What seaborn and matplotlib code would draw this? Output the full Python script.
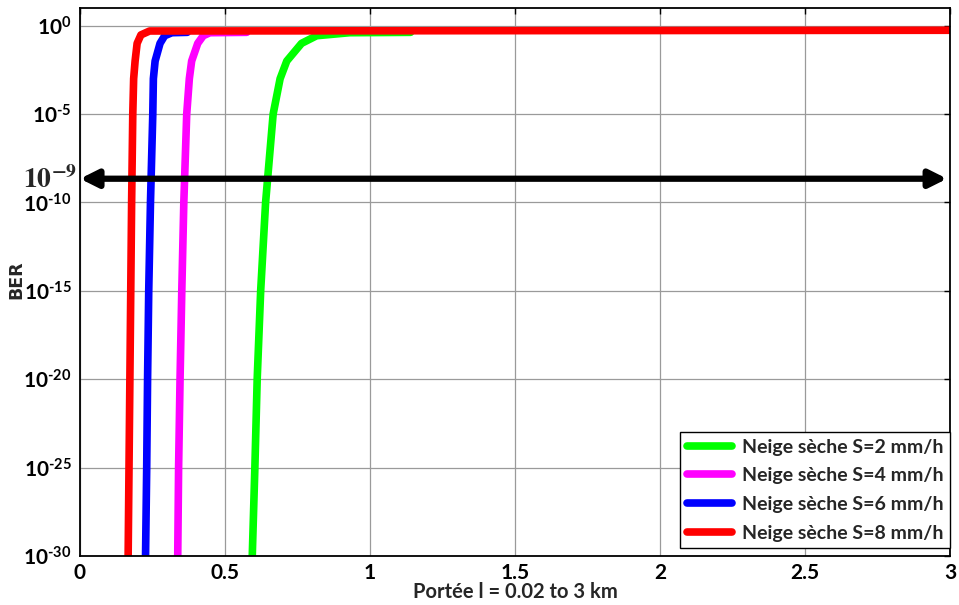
import numpy as np
import pandas as pd
import matplotlib
matplotlib.use("Agg")
import matplotlib.pyplot as plt
import seaborn as sns
from matplotlib.ticker import FixedLocator, FuncFormatter

# ---- data ----
labels = ["Neige sèche S=2 mm/h", "Neige sèche S=4 mm/h",
          "Neige sèche S=6 mm/h", "Neige sèche S=8 mm/h"]
colors = ["#00ff00", "#ff00ff", "#0000ff", "#ff0000"]

ber_levels = [1e-30, 1e-25, 1e-20, 1e-15, 1e-10, 1e-5, 1e-3, 1e-2, 1e-1, 0.27, 0.4, 0.42]

x_s2 = [0.594, 0.603, 0.611, 0.623, 0.640, 0.666, 0.690, 0.713, 0.764, 0.816, 0.930, 1.14]
x_s4 = [0.337, 0.340, 0.345, 0.351, 0.358, 0.368, 0.377, 0.385, 0.406, 0.425, 0.448, 0.575]
x_s6 = [0.226, 0.230, 0.233, 0.237, 0.243, 0.251, 0.253, 0.259, 0.276, 0.292, 0.317, 0.37]
x_s8 = [0.166, 0.169, 0.172, 0.175, 0.178, 0.182, 0.185, 0.190, 0.197, 0.210, 0.240, 3.0]
ber_s8 = [1e-30, 1e-25, 1e-20, 1e-15, 1e-10, 1e-5, 1e-3, 1e-2, 1e-1, 0.3, 0.5, 0.55]

arrow_x = [0.0, 2.99]
arrow_ber = 2.2e-9

xticks = [0, 0.5, 1, 1.5, 2, 2.5, 3]
yticks_exp = [-30, -25, -20, -15, -10, -5, 0]

rows = []
for lab, xs, ys in zip(labels, [x_s2, x_s4, x_s6, x_s8],
                       [ber_levels, ber_levels, ber_levels, ber_s8]):
    for x, y in zip(xs, ys):
        rows.append({"x": x, "BER": y, "serie": lab})
df = pd.DataFrame(rows)

FONT = "Lato"
sns.set_theme(style="white")
plt.rcParams["font.family"] = [FONT, "DejaVu Sans"]
plt.rcParams["mathtext.fontset"] = "custom"
plt.rcParams["mathtext.rm"] = FONT + ":bold"
plt.rcParams["mathtext.bf"] = FONT + ":bold"
plt.rcParams["mathtext.it"] = FONT + ":bold"

fig = plt.figure(figsize=(9.59, 6.05), dpi=100)
ax = fig.add_axes([80 / 959, 1 - 556 / 605, 870 / 959, 548 / 605])

sns.lineplot(data=df, x="x", y="BER", hue="serie", palette=colors,
             hue_order=labels, estimator=None, sort=False, lw=5.5,
             ax=ax, legend=True)

ax.set_yscale("log")
ax.set_xlim(0, 3)
ax.set_ylim(1e-30, 10)
ax.xaxis.set_major_locator(FixedLocator(xticks))
ax.yaxis.set_major_locator(FixedLocator([10.0 ** e for e in yticks_exp]))
ax.yaxis.set_minor_locator(FixedLocator([]))
ax.xaxis.set_major_formatter(FuncFormatter(lambda v, p: f"{v:g}"))
ax.yaxis.set_major_formatter(FuncFormatter(
    lambda v, p: r"$\mathbf{10^{\text{-}%d}}$" % abs(int(round(np.log10(v))))
    if v < 1 else r"$\mathbf{10^{0}}$"))

ax.grid(True, which="major", color="#9a9a9a", lw=0.9)
ax.tick_params(direction="in", top=True, right=True, length=4, width=1,
               labelsize=15, colors="black")
ax.tick_params(axis="x", pad=5)
ax.tick_params(axis="y", pad=6)
for lab in ax.get_xticklabels() + ax.get_yticklabels():
    lab.set_fontweight("bold")
for s in ax.spines.values():
    s.set_color("black")
    s.set_linewidth(1.3)

ax.set_xlabel("Portée l = 0.02 to 3 km", fontsize=14.5, fontweight="bold", labelpad=-1)
ax.set_ylabel("")
fig.text(16 / 959, 1 - 280 / 605, "BER", rotation=90, ha="center", va="center",
         fontsize=12.5, fontweight="bold", family="DejaVu Sans")

# double arrow at the BER threshold
ax.annotate("", xy=(arrow_x[1], arrow_ber), xytext=(arrow_x[0], arrow_ber),
            arrowprops=dict(arrowstyle="<|-|>", lw=4.5, color="black",
                            mutation_scale=26, shrinkA=0, shrinkB=0),
            annotation_clip=False)
ax.text(-0.003, arrow_ber, r"$\mathbf{10^{-9}}$", transform=ax.get_yaxis_transform(),
        ha="right", va="center", fontsize=20, math_fontfamily="stix")

leg = ax.legend(loc="lower right", bbox_to_anchor=(1.0, 0.014), borderaxespad=0,
                fancybox=False, framealpha=1, edgecolor="black",
                prop={"family": FONT, "weight": "bold", "size": 14},
                handlelength=2.3, labelspacing=0.6, borderpad=0.35,
                handletextpad=0.5)
leg.get_frame().set_linewidth(1.0)
for line in leg.get_lines():
    line.set_linewidth(5.5)

fig.savefig("out.png", dpi=100)
